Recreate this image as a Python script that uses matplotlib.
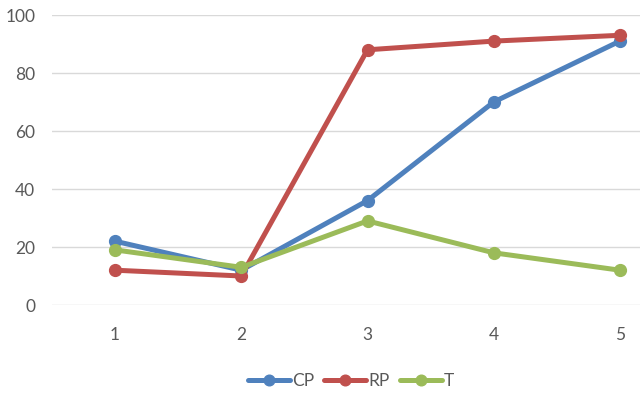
import matplotlib
matplotlib.use("Agg")
import matplotlib.pyplot as plt

categories = [1, 2, 3, 4, 5]
cp = [22, 12, 36, 70, 91]
rp = [12, 10, 88, 91, 93]
t = [19, 13, 29, 18, 12]
series_names = ["CP", "RP", "T"]
colors = ["#4F81BD", "#C0504D", "#9BBB59"]

plt.rcParams['font.family'] = ['Lato', 'DejaVu Sans']
fs = 12.5

fig = plt.figure(figsize=(6.4, 3.98), dpi=100)
W, H = 640, 398
x0, x1 = 52, 683
y0, y1 = 305, 15
ax = fig.add_axes([x0 / W, 1 - y0 / H, (x1 - x0) / W, (y0 - y1) / H])

for vals, name, c in zip([cp, rp, t], series_names, colors):
    ax.plot(categories, vals, color=c, lw=3.6, marker='o', ms=8.5,
            solid_capstyle='round', label=name, clip_on=False, zorder=3)

ax.set_xlim(0.5, 5.5)
ax.set_ylim(0, 100)
ax.set_yticks(range(0, 101, 20))
ax.set_xticks(categories)
ax.grid(axis='y', color='#D9D9D9', lw=1)
ax.set_axisbelow(True)
for s in ['top', 'right', 'left', 'bottom']:
    ax.spines[s].set_visible(False)
ax.tick_params(axis='both', length=0, labelsize=fs, labelcolor='#595959')
ax.tick_params(axis='x', pad=16)
ax.tick_params(axis='y', pad=12)

leg = fig.legend(loc='center', bbox_to_anchor=(351 / W, 1 - 381 / H), ncol=3,
                 frameon=False, fontsize=fs, handlelength=42 / (fs * 100 / 72),
                 columnspacing=0.6, handletextpad=0.1, markerscale=0.9)
for txt in leg.get_texts():
    txt.set_color('#595959')

fig.savefig("out.png", dpi=100)
